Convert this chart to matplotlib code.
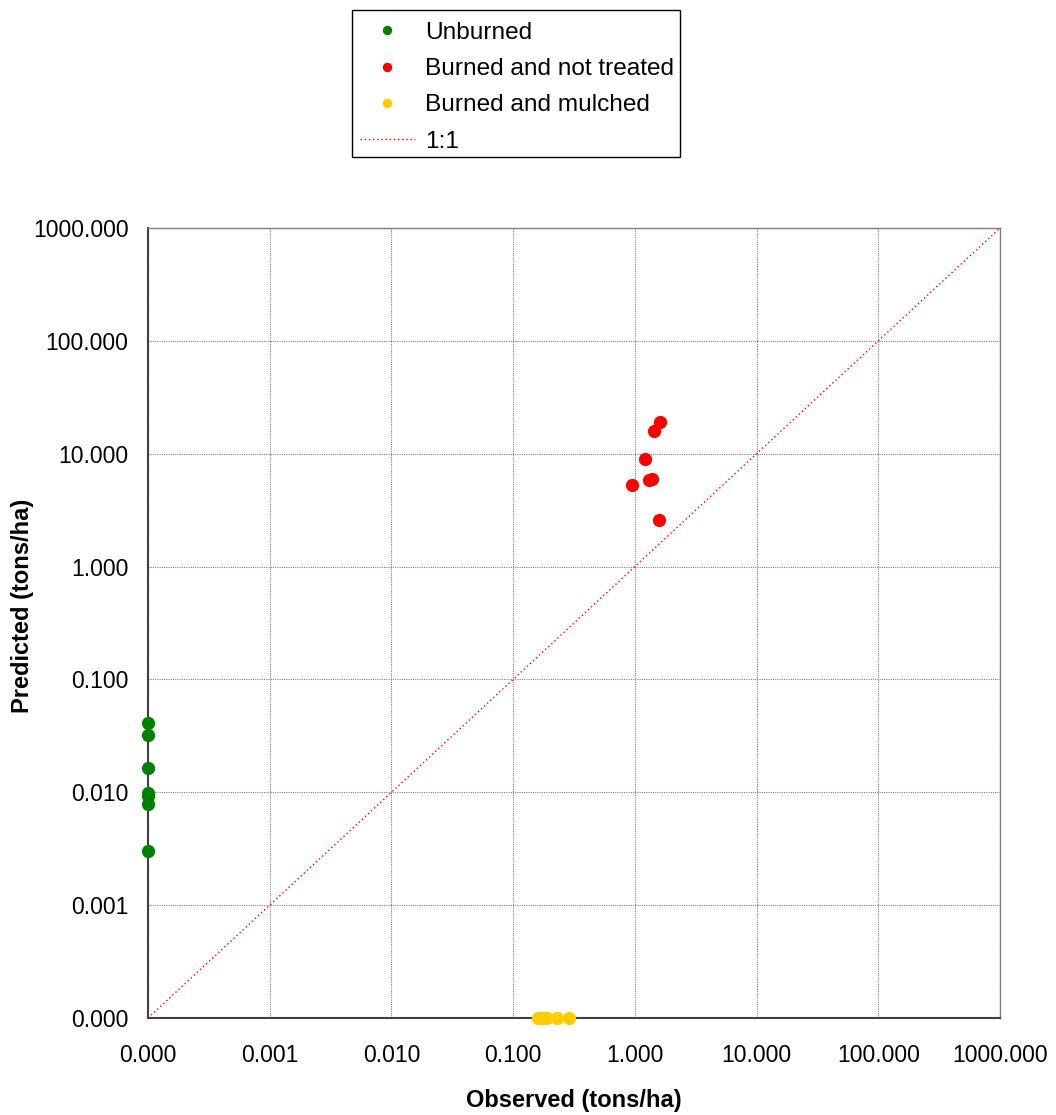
import matplotlib
matplotlib.use("Agg")
import matplotlib.pyplot as plt
from matplotlib.patches import Rectangle
from matplotlib.ticker import FixedLocator, FixedFormatter, NullLocator

plt.rcParams['font.family'] = ['Liberation Sans', 'DejaVu Sans']

# Data (tons/ha); values at 0.0001 are plotted on the axis minimum
unburned_obs = [0.0001, 0.0001, 0.0001, 0.0001, 0.0001, 0.0001, 0.0001]
unburned_pred = [0.041, 0.032, 0.0164, 0.0098, 0.0093, 0.0079, 0.0030]

burned_obs = [1.61, 1.45, 1.22, 1.38, 1.31, 0.95, 1.58]
burned_pred = [19.0, 15.9, 9.0, 6.0, 5.8, 5.25, 2.59]

mulched_obs = [0.16, 0.17, 0.18, 0.19, 0.23, 0.29]
mulched_pred = [0.0001, 0.0001, 0.0001, 0.0001, 0.0001, 0.0001]

line_vals = [0.0001, 1000]
tick_vals = [0.0001, 0.001, 0.01, 0.1, 1, 10, 100, 1000]
tick_labels = ["0.000", "0.001", "0.010", "0.100", "1.000", "10.000", "100.000", "1000.000"]

W, H = 1056, 1115
fig = plt.figure(figsize=(W / 100, H / 100), dpi=100)
ax = fig.add_axes([148/W, 1 - 1018/H, 852/W, 790/H])

ax.set_xscale('log')
ax.set_yscale('log')
ax.set_xlim(1e-4, 1e3)
ax.set_ylim(1e-4, 1e3)

ax.plot(unburned_obs, unburned_pred, 'o', color='#008000', markersize=8.5,
        label='Unburned', clip_on=False, zorder=5, linestyle='none')
ax.plot(burned_obs, burned_pred, 'o', color='#ff0000', markersize=8.5,
        label='Burned and not treated', clip_on=False, zorder=5, linestyle='none')
ax.plot(mulched_obs, mulched_pred, 'o', color='#ffcc00', markersize=8.5,
        label='Burned and mulched', clip_on=False, zorder=5, linestyle='none')
ax.plot(line_vals, line_vals, linestyle=(0, (1, 2)), color='#ff0000', linewidth=1.0,
        label='1:1', zorder=4)

for axis in (ax.xaxis, ax.yaxis):
    axis.set_major_locator(FixedLocator(tick_vals))
    axis.set_major_formatter(FixedFormatter(tick_labels))
    axis.set_minor_locator(NullLocator())

ax.tick_params(axis='both', which='major', length=0, labelsize=16.5, colors='black')
ax.tick_params(axis='x', pad=19)
ax.tick_params(axis='y', pad=14)
ax.grid(True, which='major', color='#808080', linestyle=(0, (1, 1)), linewidth=0.8)

for side in ('left', 'bottom'):
    ax.spines[side].set_color('#404040')
    ax.spines[side].set_linewidth(1.5)
for side in ('top', 'right'):
    ax.spines[side].set_color('#808080')
    ax.spines[side].set_linewidth(1.0)

ax.set_xlabel('Observed (tons/ha)', fontsize=17, fontweight='bold')
ax.set_ylabel('Predicted (tons/ha)', fontsize=17, fontweight='bold')
ax.xaxis.set_label_coords(0.5, (1018 - 1100) / 790)
ax.yaxis.set_label_coords((22 - 148) / 852, (1018 - 606) / 790)
ax.xaxis.label.set_va('center')
ax.yaxis.label.set_va('center')

leg = fig.legend(loc='upper left', bbox_to_anchor=(348/W, 1 - 10/H),
                 fontsize=17.6, frameon=False,
                 handlelength=2.25, handletextpad=0.42, labelspacing=0.58,
                 borderpad=0.48, borderaxespad=0, markerscale=0.68)

# legend frame drawn as a plain rectangle
fig.patches.append(Rectangle((352/W, 1 - 157/H), (680 - 352)/W, (157 - 10)/H,
                             transform=fig.transFigure, fill=False,
                             edgecolor='black', linewidth=1.0))

fig.savefig('out.png', dpi=100)
